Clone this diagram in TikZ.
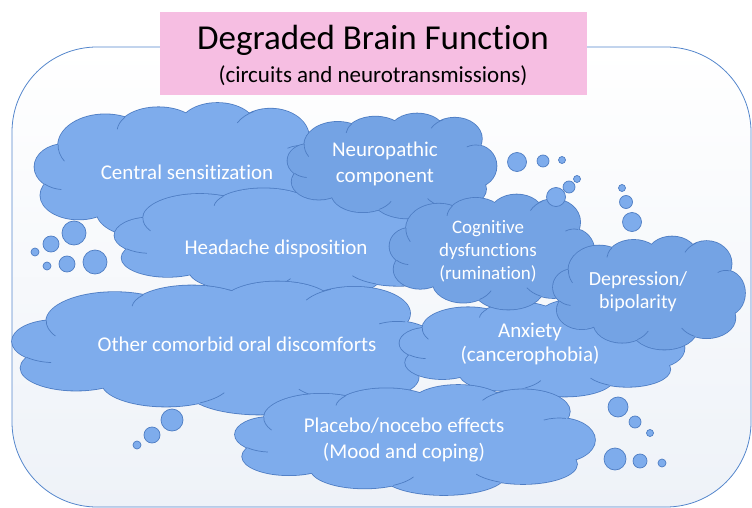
\documentclass[tikz,border=0pt]{standalone}
\usepackage{fontspec}
\setmainfont{Carlito}[Ligatures=NoCommon]
\definecolor{cloudfill}{RGB}{126,172,236}
\definecolor{cloudfilldark}{RGB}{116,163,228}
\definecolor{cloudline}{RGB}{78,125,195}
\definecolor{framecol}{RGB}{84,134,204}
\definecolor{titlepink}{RGB}{246,190,226}
\definecolor{framebot}{RGB}{238,242,248}
\tikzset{
  bubble/.style={circle, draw=cloudline, fill=cloudfill, line width=0.7pt, inner sep=0pt},
  cloudtext/.style={text=white, align=center, font=\fontsize{21}{26}\selectfont},
}
% cloud: centre x, centre y, width, height, fill colour
\newcommand{\puffcloud}[5]{%
  \begin{scope}[shift={(#1-#3/2,#2-#4/2)}, x=#3pt, y=-#4pt]
    \foreach \a/\b/\c/\d in {0.10/0.45/0.10/0.16, 0.24/0.30/0.16/0.22, 0.42/0.20/0.14/0.17,
        0.62/0.17/0.13/0.17, 0.80/0.24/0.13/0.20, 0.90/0.50/0.10/0.20, 0.80/0.72/0.15/0.18,
        0.58/0.82/0.17/0.18, 0.36/0.76/0.15/0.18, 0.15/0.65/0.13/0.17}
      {\path[draw=cloudline, line width=1.6pt] (\a,\b) ellipse [x radius=\c, y radius=\d];}
    \foreach \a/\b/\c/\d in {0.10/0.45/0.10/0.16, 0.24/0.30/0.16/0.22, 0.42/0.20/0.14/0.17,
        0.62/0.17/0.13/0.17, 0.80/0.24/0.13/0.20, 0.90/0.50/0.10/0.20, 0.80/0.72/0.15/0.18,
        0.58/0.82/0.17/0.18, 0.36/0.76/0.15/0.18, 0.15/0.65/0.13/0.17, 0.5/0.5/0.38/0.32}
      {\path[fill=#5] (\a,\b) ellipse [x radius=\c, y radius=\d];}
    \foreach \a/\b/\c/\d/\s/\e in {0.24/0.30/0.16/0.22/182/150, 0.42/0.20/0.14/0.17/216/185,
        0.80/0.24/0.13/0.20/245/210, 0.90/0.50/0.10/0.20/281/245, 0.80/0.72/0.15/0.18/115/150,
        0.36/0.76/0.15/0.18/58/25, 0.10/0.45/0.10/0.16/131/95}
      {\draw[cloudline, line width=0.7pt] ({\a+\c*cos(\s)},{\b+\d*sin(\s)})
          arc [start angle=\s, end angle=\e, x radius=\c, y radius=\d];}
  \end{scope}}
\begin{document}
\begin{tikzpicture}[x=1pt,y=-1pt]
\useasboundingbox (0,0) rectangle (752,508);
% frame
\path[draw=framecol, line width=0.8pt, top color=white, bottom color=framebot, rounded corners=85pt]
  (12,47) rectangle (751,507);
% title
\node[fill=titlepink, minimum width=427pt, minimum height=83pt, inner sep=0pt] (title) at (373.5,53.5) {};
\node (t1) at (373,40) {\fontsize{35}{40}\selectfont Degraded Brain Function};
\node (t2) at (373,76) {\fontsize{23}{27}\selectfont (circuits and neurotransmissions)};
% bubbles left top
\node[bubble, minimum size=24pt] (bl1) at (74,233) {};
\node[bubble, minimum size=16pt] (bl2) at (51,244) {};
\node[bubble, minimum size=8pt] (bl3) at (35,252) {};
\node[bubble, minimum size=16pt] (bl4) at (67,264) {};
\node[bubble, minimum size=8pt] (bl5) at (47,266) {};
\node[bubble, minimum size=24pt] (bl6) at (95,262) {};
% clouds
\puffcloud{182}{174}{295}{142}{cloudfill}
\puffcloud{292}{241}{355}{112}{cloudfill}
\puffcloud{392}{166}{209}{105}{cloudfilldark}
\puffcloud{226}{348}{428}{133}{cloudfill}
\puffcloud{542}{348}{285}{97}{cloudfill}
\puffcloud{492}{252}{205}{115}{cloudfilldark}
\puffcloud{649}{293}{192}{113}{cloudfilldark}
\puffcloud{415}{440}{360}{110}{cloudfill}
% bubbles right
\node[bubble, minimum size=19pt] (br1) at (517,162) {};
\node[bubble, minimum size=12pt] (br2) at (543,161) {};
\node[bubble, minimum size=7pt] (br3) at (562,160) {};
\node[bubble, minimum size=19pt] (br4) at (556,197) {};
\node[bubble, minimum size=12pt] (br5) at (569,187) {};
\node[bubble, minimum size=7pt] (br6) at (577,179) {};
\node[bubble, minimum size=7pt] (br7) at (622,188) {};
\node[bubble, minimum size=13pt] (br8) at (626,202) {};
\node[bubble, minimum size=19pt] (br9) at (632,222) {};
% bubbles bottom
\node[bubble, minimum size=22pt] (bb1) at (172,420) {};
\node[bubble, minimum size=16pt] (bb2) at (152,435) {};
\node[bubble, minimum size=8pt] (bb3) at (137,445) {};
\node[bubble, minimum size=20pt] (bb4) at (618,407) {};
\node[bubble, minimum size=12pt] (bb5) at (635,422) {};
\node[bubble, minimum size=7pt] (bb6) at (650,433) {};
\node[bubble, minimum size=22pt] (bb7) at (615,459) {};
\node[bubble, minimum size=14pt] (bb8) at (640,461) {};
\node[bubble, minimum size=8pt] (bb9) at (662,463) {};
% texts
\node[cloudtext] (x1) at (187,172) {Central sensitization};
\node[cloudtext] (x3) at (385,164) {Neuropathic\\component};
\node[cloudtext] (x2) at (276,249) {Headache disposition};
\node[cloudtext, font=\fontsize{19}{23}\selectfont] (x6) at (488,251) {Cognitive\\dysfunctions\\(rumination)};
\node[cloudtext, font=\fontsize{20}{23}\selectfont] (x7) at (638,292) {Depression/\\bipolarity};
\node[cloudtext] (x4) at (237,344) {Other comorbid oral discomforts};
\node[cloudtext, font=\fontsize{21}{24}\selectfont] (x5) at (530,344) {Anxiety\\(cancerophobia)};
\node[cloudtext] (x8) at (404,440) {Placebo/nocebo effects\\(Mood and coping)};
\end{tikzpicture}
\end{document}
